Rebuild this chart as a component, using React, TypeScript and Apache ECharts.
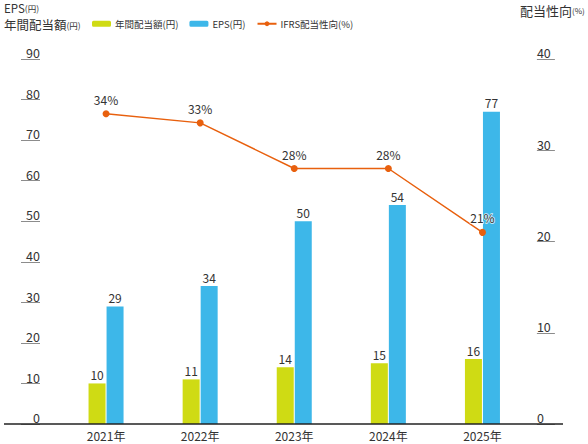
import React, { useEffect, useRef } from "react";
import * as echarts from "echarts";

const years = ["2021年", "2022年", "2023年", "2024年", "2025年"];
const dividend = [10, 11, 14, 15, 16];
const eps = [29, 34, 50, 54, 77];
const payout = [34, 33, 28, 28, 21];

const FONT = "'Noto Sans CJK JP', 'Noto Sans', sans-serif";
const GREEN = "#cfdb14";
const BLUE = "#3db7e9";
const ORANGE = "#e8600e";
const TEXT = "#333";

export default function App() {
  const ref = useRef<HTMLDivElement>(null);
  useEffect(() => {
    if (!ref.current) return;
    const chart = echarts.init(ref.current, undefined, { renderer: "svg" });
    chart.setOption({
      animation: false,
      textStyle: { fontFamily: FONT },
      grid: { left: 59, right: 58.5, top: 59, bottom: 20 },
      legend: {
        left: 92,
        top: 19,
        padding: 0,
        itemWidth: 19,
        itemHeight: 6,
        itemGap: 11,
        textStyle: { fontSize: 9.5, color: TEXT, fontFamily: FONT, padding: [0, 0, 0, -1] },
        data: ["年間配当額(円)", "EPS(円)", "IFRS配当性向(%)"],
      },
      xAxis: {
        type: "category",
        data: years,
        axisLine: { show: false },
        axisTick: { show: false },
        axisLabel: { color: TEXT, fontSize: 12, margin: 5, fontFamily: FONT },
      },
      yAxis: [
        {
          type: "value",
          min: 0,
          max: 90,
          interval: 10,
          position: "left",
          offset: 19,
          axisLine: { show: false },
          axisTick: { show: true, length: 19, lineStyle: { color: "#8c8c8c", width: 1 } },
          splitLine: { show: false },
          axisLabel: {
            color: TEXT,
            fontSize: 12.5,
            margin: 0,
            verticalAlign: "bottom",
            align: "right",
            fontFamily: FONT,
          },
        },
        {
          type: "value",
          min: 0,
          max: 40,
          interval: 10,
          position: "right",
          offset: 7.4,
          axisLine: { show: false },
          axisTick: { show: true, length: 18, lineStyle: { color: "#8c8c8c", width: 1 } },
          splitLine: { show: false },
          axisLabel: {
            color: TEXT,
            fontSize: 12.5,
            margin: 0,
            verticalAlign: "bottom",
            align: "left",
            fontFamily: FONT,
          },
        },
      ],
      series: [
        {
          name: "年間配当額(円)",
          type: "bar",
          data: dividend,
          barWidth: 17,
          barGap: "6%",
          itemStyle: { color: GREEN },
          label: { show: true, position: "top", distance: 3, color: TEXT, fontSize: 12, fontFamily: FONT },
        },
        {
          name: "EPS(円)",
          type: "bar",
          data: eps,
          barWidth: 17,
          itemStyle: { color: BLUE },
          label: { show: true, position: "top", distance: 3, color: TEXT, fontSize: 12, fontFamily: FONT },
        },
        {
          name: "IFRS配当性向(%)",
          type: "line",
          yAxisIndex: 1,
          data: payout,
          z: 5,
          symbol: "circle",
          symbolSize: 7,
          lineStyle: { color: ORANGE, width: 1.5 },
          itemStyle: { color: ORANGE },
          label: {
            show: true,
            position: "top",
            distance: 5,
            formatter: "{c}%",
            color: TEXT,
            fontSize: 12,
            fontFamily: FONT,
            textBorderColor: "rgba(255,255,255,0.8)",
            textBorderWidth: 1.5,
          },
        },
      ],
      graphic: [
        {
          type: "line",
          shape: { x1: 4, y1: 424, x2: 563, y2: 424 },
          style: { stroke: "#222", lineWidth: 1.5 },
          z: 10,
        },
        {
          type: "text",
          left: 4,
          top: 2,
          style: {
            text: "{b1|EPS}{s1|(円)}\n{b2|年間配当額}{s2|(円)}",
            fill: TEXT,
            rich: {
              b1: { fontSize: 11.5, lineHeight: 15, fill: TEXT, fontFamily: FONT },
              s1: { fontSize: 8.5, lineHeight: 15, fill: TEXT, fontFamily: FONT },
              b2: { fontSize: 12.5, lineHeight: 19.5, fill: TEXT, fontFamily: FONT },
              s2: { fontSize: 8.5, lineHeight: 19.5, fill: TEXT, fontFamily: FONT },
            },
          },
        },
        {
          type: "text",
          left: 520,
          top: 4,
          style: {
            text: "{b|配当性向}{s|(%)}",
            fill: TEXT,
            rich: {
              b: { fontSize: 13, lineHeight: 15, fill: TEXT, fontFamily: FONT },
              s: { fontSize: 8, lineHeight: 15, fill: TEXT, fontFamily: FONT },
            },
          },
        },
      ],
    });
    return () => chart.dispose();
  }, []);
  return (
    <div
      ref={ref}
      style={{ position: "absolute", left: 0, top: 0, width: 588, height: 444, background: "#fff" }}
    />
  );
}
